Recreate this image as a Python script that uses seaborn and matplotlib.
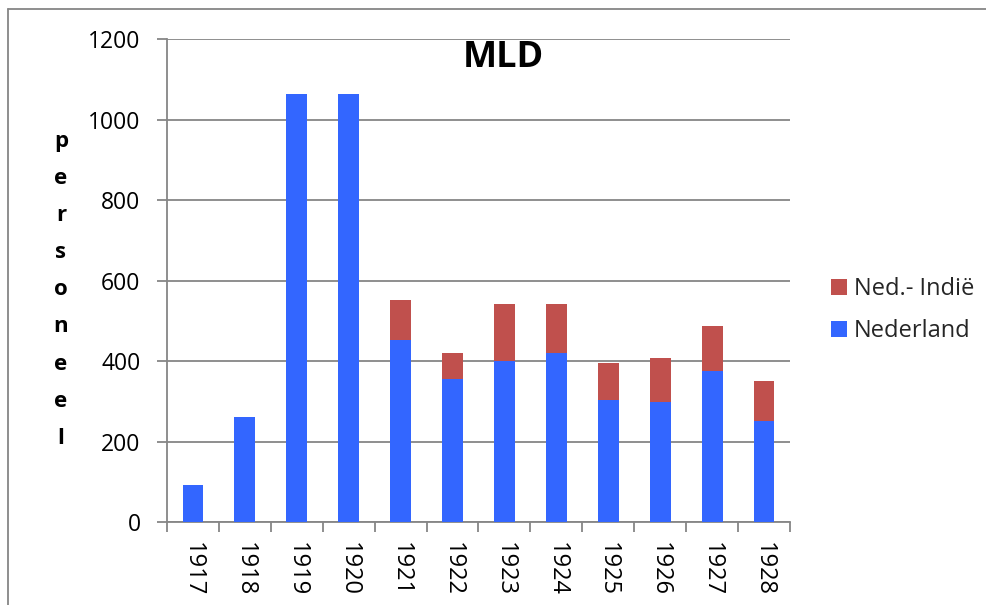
import matplotlib
matplotlib.use("Agg")
import matplotlib.pyplot as plt
import seaborn as sns
import pandas as pd
from matplotlib.lines import Line2D
from matplotlib.patches import Patch

years = ["1917", "1918", "1919", "1920", "1921", "1922", "1923", "1924", "1925", "1926", "1927", "1928"]
nederland = [92, 261, 1064, 1064, 452, 355, 400, 420, 303, 298, 376, 252]
ned_indie = [0, 0, 0, 0, 100, 66, 143, 122, 93, 109, 112, 99]
yticks = [0, 200, 400, 600, 800, 1000, 1200]
title = "MLD"
ylabel = "personeel"
series_names = ["Ned.- Indië", "Nederland"]

blue = "#3366FF"
red = "#C0504D"
gray = "#868686"

sns.set_theme(style="white")
plt.rcParams["font.family"] = ["Open Sans", "DejaVu Sans"]

df = pd.DataFrame({"year": years, "Nederland": nederland, "Indie": ned_indie})
df["total"] = df["Nederland"] + df["Indie"]

fig = plt.figure(figsize=(9.87, 6.05), dpi=100)
ax = fig.add_axes([167 / 987, 1 - 522.3 / 605, (790 - 167) / 987, (522.3 - 39.3) / 605])

sns.barplot(data=df, x="year", y="total", color=red, width=0.4, ax=ax,
            saturation=1, linewidth=0, zorder=3)
sns.barplot(data=df, x="year", y="Nederland", color=blue, width=0.4, ax=ax,
            saturation=1, linewidth=0, zorder=3)

ax.set_xlim(-0.5, len(years) - 0.5)
ax.set_ylim(0, 1200)
ax.set_yticks(yticks)
ax.set_yticklabels([str(v) for v in yticks], fontsize=16.5, color="black")
ax.yaxis.grid(True, color=gray, linewidth=1.3, zorder=0)
ax.set_axisbelow(True)

ax.set_xticks(range(len(years)))
ax.set_xticklabels(years, rotation=270, fontsize=17, color="black", va="top", ha="center")
ax.set_xticks([i - 0.5 for i in range(len(years) + 1)], minor=True)
ax.tick_params(axis="x", which="major", length=0, pad=14)
ax.tick_params(axis="x", which="minor", length=7, width=1.3, color=gray, direction="out", bottom=True)
ax.tick_params(axis="y", which="major", length=7, width=1.3, color=gray, direction="out", left=True, pad=12)

for s in ["top", "right"]:
    ax.spines[s].set_visible(False)
for s in ["left", "bottom"]:
    ax.spines[s].set_color(gray)
    ax.spines[s].set_linewidth(1.3)

ax.set_xlabel("")
ax.set_ylabel("")

fig.text(503 / 987, 1 - 58 / 605, title, fontsize=26, fontweight="bold",
         ha="center", va="center", color="black")

for i, ch in enumerate(ylabel):
    fig.text(61 / 987, 1 - (141 + i * 37.2) / 605, ch, fontsize=16, fontweight="bold",
             ha="center", va="center", color="black")

handles = [Patch(facecolor=red, edgecolor="none"), Patch(facecolor=blue, edgecolor="none")]
fig.legend(handles, series_names, loc="center left", bbox_to_anchor=(831 / 987, 1 - 310 / 605),
           frameon=False, fontsize=17, handlelength=0.66, handleheight=0.66,
           handletextpad=0.3, labelspacing=0.75, borderpad=0, borderaxespad=0)

fig.add_artist(Line2D([8 / 987, 8 / 987], [0, 1 - 9 / 605], transform=fig.transFigure, color=gray, linewidth=1.3))
fig.add_artist(Line2D([8 / 987, 1], [1 - 9 / 605, 1 - 9 / 605], transform=fig.transFigure, color=gray, linewidth=1.3))

fig.savefig("out.png", dpi=100)
